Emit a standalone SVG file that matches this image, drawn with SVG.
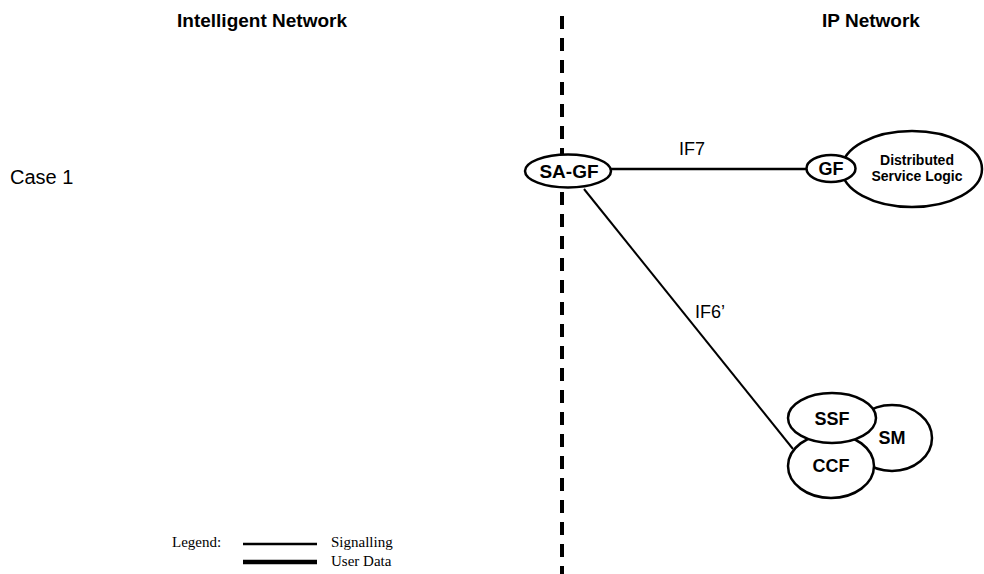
<svg xmlns="http://www.w3.org/2000/svg" width="984" height="574" viewBox="0 0 984 574">
  <style>
    .title { font-family: "Liberation Sans", Arial, sans-serif; font-weight: bold; font-size: 19px; text-anchor: middle; fill: #000; }
    .lbl { font-family: "Liberation Sans", Arial, sans-serif; font-size: 18px; fill: #000; }
    .node { fill: #fff; stroke: #000; stroke-width: 2.5; }
    .ntext { font-family: "Liberation Sans", Arial, sans-serif; font-weight: bold; font-size: 18px; text-anchor: middle; fill: #000; }
    .small { font-size: 14px; }
    .legend { font-family: "Liberation Serif", "Times New Roman", serif; font-size: 15px; fill: #000; }
    .sig { stroke: #000; fill: none; }
  </style>

  <rect width="984" height="574" fill="#fff"/>

  <!-- domain headings and boundary -->
  <text class="title" x="262" y="27">Intelligent Network</text>
  <text class="title" x="871" y="27">IP Network</text>
  <line x1="562" y1="16" x2="562" y2="574" stroke="#000" stroke-width="4" stroke-dasharray="13 9"/>

  <text class="lbl" x="10" y="184" style="font-size:20px">Case 1</text>

  <!-- interfaces -->
  <g id="connectors">
    <line class="sig" x1="610" y1="169" x2="808" y2="169" stroke-width="2.5"/>
    <line class="sig" x1="584" y1="189" x2="793" y2="449" stroke-width="2"/>
    <text class="lbl" x="679" y="155">IF7</text>
    <text class="lbl" x="695" y="318">IF6’</text>
  </g>

  <g id="sa-gf">
    <ellipse class="node" cx="568" cy="171" rx="43" ry="16.5"/>
    <text class="ntext" x="569" y="177.5" style="font-size:19px">SA-GF</text>
  </g>

  <g id="distributed-service-logic">
    <ellipse class="node" cx="912" cy="169" rx="70" ry="38"/>
    <text class="ntext small" x="917" y="165">Distributed</text>
    <text class="ntext small" x="917" y="181">Service Logic</text>
  </g>

  <g id="gf">
    <ellipse class="node" cx="831" cy="168.5" rx="24.5" ry="13.5"/>
    <text class="ntext" x="831" y="175">GF</text>
  </g>

  <g id="sm">
    <ellipse class="node" cx="892" cy="438" rx="40" ry="33"/>
    <text class="ntext" x="892" y="444">SM</text>
  </g>

  <g id="ccf">
    <ellipse class="node" cx="831" cy="466" rx="43" ry="32"/>
    <text class="ntext" x="831" y="472">CCF</text>
  </g>

  <g id="ssf">
    <ellipse class="node" cx="832" cy="418" rx="44" ry="25"/>
    <text class="ntext" x="832" y="425">SSF</text>
  </g>

  <!-- legend -->
  <g id="legend">
    <text class="legend" x="172" y="547">Legend:</text>
    <line class="sig" x1="243" y1="544" x2="317" y2="544" stroke-width="2.5"/>
    <text class="legend" x="331" y="547">Signalling</text>
    <line class="sig" x1="243" y1="562" x2="317" y2="562" stroke-width="4.5"/>
    <text class="legend" x="331" y="566">User Data</text>
  </g>
</svg>
